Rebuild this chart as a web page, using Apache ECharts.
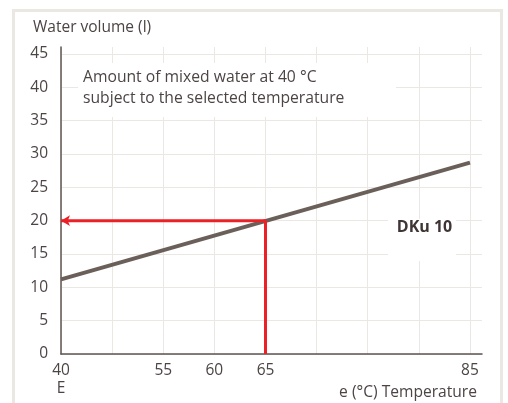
<!DOCTYPE html>
<html>
<head>
<meta charset="utf-8">
<script src="https://cdn.jsdelivr.net/npm/echarts@6/dist/echarts.min.js"></script>
<style>
  html, body { margin: 0; padding: 0; background: #fff; }
  #chart { width: 508px; height: 403px; }
</style>
</head>
<body>
<div id="chart"></div>
<script>
// x positions are evenly spaced steps, labelled only at some of them
var tempLabels = ['40\nE', '', '55', '60', '65', '', '', '', '85'];
// DKu 10 line: water volume at first and last step
var lineSteps = [0, 8];
var lineVolume = [11.2, 28.7];
// reading example: 65 °C -> 20 l
var readStep = 4;
var readVolume = 20;

var txt = '#4d4444';
var font = '"Open Sans"';

var chart = echarts.init(document.getElementById('chart'));

var option = {
  backgroundColor: '#fff',
  animation: false,
  textStyle: { fontFamily: font },
  grid: { left: 61, right: 26, top: 47, bottom: 49 },
  xAxis: {
    type: 'value',
    min: 0,
    max: 8.235,
    interval: 1,
    axisLine: { lineStyle: { color: '#5e5450', width: 1.5 } },
    axisTick: { show: false },
    axisLabel: {
      color: txt, fontSize: 15.5, margin: 8, lineHeight: 18, fontFamily: font,
      showMaxLabel: false,
      formatter: function (v) { return tempLabels[v] || ''; }
    },
    splitLine: { show: true, showMaxLine: false, lineStyle: { color: '#ebe7e3', width: 1 } }
  },
  yAxis: {
    type: 'value',
    min: 0,
    max: 46.05,
    interval: 5,
    axisLine: { show: true, lineStyle: { color: '#5e5450', width: 1.5 } },
    axisTick: { show: false },
    axisLabel: {
      color: txt, fontSize: 15.5, margin: 13, fontFamily: font,
      showMaxLabel: false,
      formatter: function (v) { return v % 5 === 0 ? String(v) : ''; }
    },
    splitLine: { show: true, showMaxLine: false, lineStyle: { color: '#ebe7e3', width: 1 } }
  },
  graphic: [
    { type: 'rect', z: 0, silent: true,
      shape: { x: 13.5, y: 10.5, width: 488, height: 420 },
      style: { fill: 'none', stroke: '#ebe7e3', lineWidth: 3 } },
    { type: 'text', z: 5, x: 33, y: 28,
      style: { text: 'Water volume (l)', fill: txt, font: '15.5px ' + font, verticalAlign: 'middle' } },
    { type: 'rect', z: 1, silent: true,
      shape: { x: 78, y: 63, width: 318, height: 54 },
      style: { fill: '#fff' } },
    { type: 'text', z: 5, x: 83, y: 67,
      style: { text: 'Amount of mixed water at 40 °C\nsubject to the selected temperature',
        fill: txt, font: '15.7px ' + font, lineHeight: 21 } },
    { type: 'rect', z: 1, silent: true,
      shape: { x: 388, y: 219, width: 68, height: 42 },
      style: { fill: '#fff' } },
    { type: 'text', z: 5, x: 424.5, y: 227,
      style: { text: 'DKu 10', fill: '#3f3535', font: 'bold 16px ' + font,
        align: 'center', verticalAlign: 'middle' } },
    { type: 'text', z: 5, x: 477, y: 393,
      style: { text: 'e (°C) Temperature', fill: txt, font: '15.6px ' + font,
        align: 'right', verticalAlign: 'middle' } }
  ],
  series: [
    {
      type: 'line',
      z: 3,
      symbol: 'none',
      lineStyle: { color: '#6b5f5a', width: 4 },
      data: lineSteps.map(function (s, i) { return [s, lineVolume[i]]; })
    },
    {
      type: 'line',
      z: 4,
      symbol: 'none',
      lineStyle: { color: '#ec2027', width: 3 },
      data: [
        [readStep, 0],
        [readStep, readVolume],
        { value: [0, readVolume], symbol: 'arrow', symbolSize: [8, 9], symbolRotate: 90,
          itemStyle: { color: '#ec2027' } }
      ]
    }
  ]
};

chart.setOption(option);
</script>
</body>
</html>
